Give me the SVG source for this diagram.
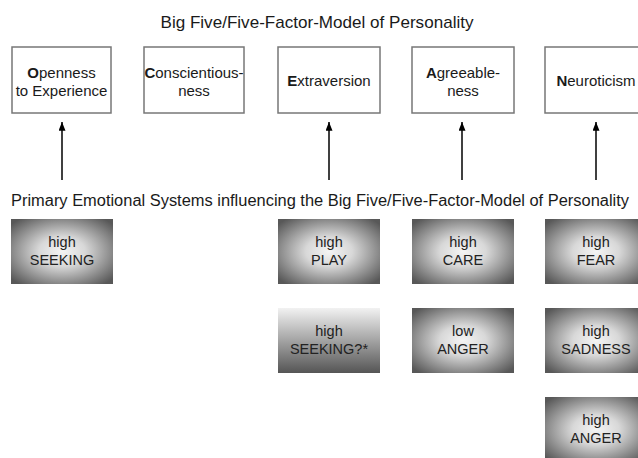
<svg xmlns="http://www.w3.org/2000/svg" width="638" height="458" viewBox="0 0 638 458">
<defs>
<radialGradient id="rg" cx="50%" cy="50%" r="65%">
<stop offset="0" stop-color="#f4f4f4"/>
<stop offset="0.35" stop-color="#d8d8d8"/>
<stop offset="1" stop-color="#585858"/>
</radialGradient>
<linearGradient id="lg" x1="0" y1="0" x2="0" y2="1">
<stop offset="0" stop-color="#f2f2f2"/>
<stop offset="1" stop-color="#555555"/>
</linearGradient>
<marker id="ah" viewBox="0 0 10 8" refX="10" refY="4" markerWidth="9" markerHeight="7" orient="auto" markerUnits="userSpaceOnUse">
<path d="M0,0 L10,4 L0,8 Z" fill="#000"/>
</marker>
</defs>
<style>
text{font-family:"Liberation Sans",Arial,sans-serif;fill:#1a1a1a;text-anchor:middle}
.title{font-size:17px}
.sub{font-size:15.6px}
.trait rect{fill:#fff;stroke:#777;stroke-width:1.5}
.trait text{font-size:15px}
.emo text{font-size:14.5px;fill:#222}
.conn line{stroke:#000;stroke-width:1.5}
</style>
<rect width="638" height="458" fill="#fff"/>
<text class="title" x="317" y="28" textLength="313" lengthAdjust="spacingAndGlyphs">Big Five/Five-Factor-Model of Personality</text>
<text class="sub" x="320" y="206" textLength="618" lengthAdjust="spacingAndGlyphs">Primary Emotional Systems influencing the Big Five/Five-Factor-Model of Personality</text>

<g id="openness" class="trait"><rect x="12" y="47" width="99" height="66"/><text x="61.5" y="78"><tspan font-weight="bold">O</tspan>penness</text><text x="61.5" y="96">to Experience</text></g>
<g id="conscientiousness" class="trait"><rect x="144" y="47" width="100" height="66"/><text x="194" y="78"><tspan font-weight="bold">C</tspan>onscientious-</text><text x="194" y="96">ness</text></g>
<g id="extraversion" class="trait"><rect x="278" y="47" width="102" height="66"/><text x="329" y="86"><tspan font-weight="bold">E</tspan>xtraversion</text></g>
<g id="agreeableness" class="trait"><rect x="412" y="47" width="102" height="66"/><text x="463" y="78"><tspan font-weight="bold">A</tspan>greeable-</text><text x="463" y="96">ness</text></g>
<g id="neuroticism" class="trait"><rect x="545" y="47" width="102" height="66"/><text x="596" y="86"><tspan font-weight="bold">N</tspan>euroticism</text></g>

<g id="connectors" class="conn">
<line x1="62" y1="180" x2="62" y2="122" marker-end="url(#ah)"/>
<line x1="329" y1="180" x2="329" y2="122" marker-end="url(#ah)"/>
<line x1="462" y1="180" x2="462" y2="122" marker-end="url(#ah)"/>
<line x1="596" y1="180" x2="596" y2="122" marker-end="url(#ah)"/>
</g>

<g id="high-seeking" class="emo"><rect x="11" y="219" width="102" height="65" fill="url(#rg)"/><text x="62" y="247">high</text><text x="62" y="265">SEEKING</text></g>
<g id="high-play" class="emo"><rect x="278" y="219" width="102" height="65" fill="url(#rg)"/><text x="329" y="247">high</text><text x="329" y="265">PLAY</text></g>
<g id="high-care" class="emo"><rect x="412" y="219" width="102" height="65" fill="url(#rg)"/><text x="463" y="247">high</text><text x="463" y="265">CARE</text></g>
<g id="high-fear" class="emo"><rect x="545" y="219" width="102" height="65" fill="url(#rg)"/><text x="596" y="247">high</text><text x="596" y="265">FEAR</text></g>
<g id="high-seeking-q" class="emo"><rect x="278" y="308" width="102" height="65" fill="url(#lg)"/><text x="329" y="336">high</text><text x="329" y="354">SEEKING?*</text></g>
<g id="low-anger" class="emo"><rect x="412" y="308" width="102" height="65" fill="url(#rg)"/><text x="463" y="336">low</text><text x="463" y="354">ANGER</text></g>
<g id="high-sadness" class="emo"><rect x="545" y="308" width="102" height="65" fill="url(#rg)"/><text x="596" y="336">high</text><text x="596" y="354">SADNESS</text></g>
<g id="high-anger" class="emo"><rect x="545" y="397" width="102" height="65" fill="url(#rg)"/><text x="596" y="425">high</text><text x="596" y="443">ANGER</text></g>
</svg>
